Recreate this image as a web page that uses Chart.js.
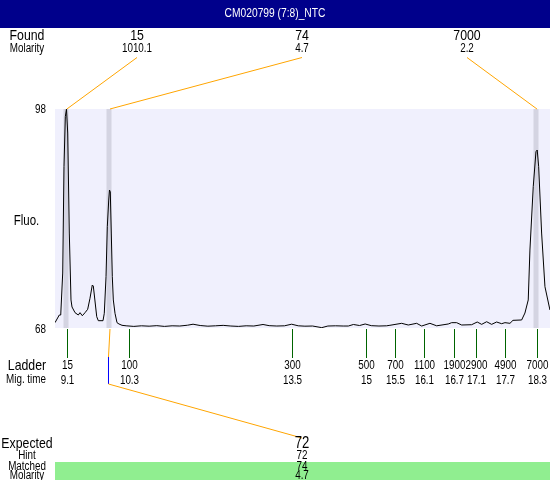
<!DOCTYPE html>
<html>
<head>
<meta charset="utf-8">
<script src="https://cdn.jsdelivr.net/npm/chart.js@4/dist/chart.umd.min.js"></script>
<style>
  html, body { margin: 0; padding: 0; background: #fff; }
  #wrap { width: 550px; height: 480px; position: relative; }
</style>
</head>
<body>
<div id="wrap"><canvas id="gel"></canvas></div>
<script>
const title = "CM020799 (7:8)_NTC";

// electropherogram trace: migration time (s) and fluorescence
const migTimes = [
  8.857, 8.941, 8.969, 9.008, 9.033, 9.059, 9.082, 9.106, 9.137, 9.170,
  9.190, 9.249, 9.313, 9.347, 9.392, 9.445, 9.497, 9.542, 9.587, 9.607,
  9.627, 9.674, 9.705, 9.797, 9.822, 9.856, 9.881, 9.909, 9.924, 9.940,
  9.959, 9.979, 9.999, 10.032, 10.071, 10.110, 10.169,
  10.25, 10.40, 10.55, 10.70, 10.85, 11.00, 11.15, 11.30, 11.45, 11.56,
  11.70, 11.85, 12.00, 12.15, 12.30, 12.45, 12.60, 12.75, 12.93, 13.05,
  13.20, 13.35, 13.49, 13.62, 13.75, 13.90, 14.08, 14.20, 14.35, 14.50,
  14.60, 14.70, 14.82, 14.93, 15.05, 15.20, 15.35,
  15.415, 15.644, 15.774, 15.938, 16.036, 16.198, 16.330, 16.557, 16.623, 16.721,
  16.819, 17.015, 17.124, 17.211, 17.309, 17.406, 17.504, 17.602, 17.667, 17.765,
  17.824, 17.994, 18.058, 18.123, 18.156, 18.221, 18.274, 18.299, 18.327, 18.385,
  18.450, 18.548
];
const fluoValues = [
  68.73, 69.78, 69.78, 75.53, 90.10, 96.95, 98.00, 94.71, 81.01, 71.84,
  70.88, 70.10, 69.78, 70.10, 69.68, 70.10, 70.56, 72.07, 73.89, 73.75,
  72.52, 69.55, 69.00, 69.00, 70.01, 75.03, 81.88, 85.53, 86.90, 86.63,
  81.01, 75.03, 71.84, 70.01, 68.73, 68.55, 68.37,
  68.30, 68.22, 68.30, 68.25, 68.32, 68.22, 68.30, 68.27, 68.38, 68.52,
  68.34, 68.25, 68.30, 68.36, 68.27, 68.22, 68.30, 68.27, 68.48, 68.32,
  68.27, 68.30, 68.52, 68.30, 68.25, 68.27, 68.05, 68.27, 68.30, 68.27,
  68.27, 68.48, 68.34, 68.55, 68.32, 68.27, 68.30,
  68.37, 68.64, 68.41, 68.64, 68.27, 68.64, 68.30, 68.55, 68.73, 68.73,
  68.41, 68.45, 68.82, 68.50, 68.86, 68.50, 68.82, 68.59, 68.73, 68.64,
  69.05, 69.10, 70.05, 71.84, 78.68, 87.36, 92.15, 92.38, 90.10, 81.01,
  73.66, 70.47
];

// found peaks
const foundSizes = ["15", "74", "7000"];
const foundMolarity = ["1010.1", "4.7", "2.2"];
const foundTimes = [9.08, 9.924, 18.284];

// ladder
const ladderSizes = ["15", "100", "300", "500", "700", "1100", "1900", "2900", "4900", "7000"];
const ladderLabels = ["9.1", "10.3", "13.5", "15", "15.5", "16.1", "16.7", "17.1", "17.7", "18.3"];
const ladderTimes = [9.1, 10.3, 13.5, 14.95, 15.52, 16.08, 16.66, 17.1, 17.66, 18.3];

// expected fragment
const expectedSize = "72";
const hintSize = "72";
const matchedSize = "74";
const matchedMolarity = "4.7";

const yTicks = [68, 98];

const FONT = "'Liberation Sans', Arial, sans-serif";
const colX = [137, 302, 467];

// narrow-looking text: regular face squeezed horizontally
function txt(ctx, s, x, y, size, color, align) {
  ctx.save();
  ctx.font = size + "px " + FONT;
  ctx.fillStyle = color || "#000";
  ctx.textAlign = align || "center";
  ctx.textBaseline = "middle";
  ctx.translate(x, y);
  ctx.scale(0.82, 1);
  ctx.fillText(s, 0, 0);
  ctx.restore();
}

function line(ctx, pts, color) {
  ctx.strokeStyle = color;
  ctx.lineWidth = 1;
  ctx.beginPath();
  ctx.moveTo(pts[0][0], pts[0][1]);
  for (let i = 1; i < pts.length; i++) ctx.lineTo(pts[i][0], pts[i][1]);
  ctx.stroke();
}

const decor = {
  id: "decor",
  beforeDatasetsDraw(chart) {
    const { ctx, chartArea: a, scales: { x } } = chart;
    ctx.save();
    ctx.fillStyle = "#F0F0FD";
    ctx.fillRect(a.left, a.top, a.right - a.left, a.bottom - a.top);
    // peak bands
    ctx.fillStyle = "#D4D4E2";
    foundTimes.forEach(t => {
      const px = x.getPixelForValue(t);
      ctx.fillRect(Math.round(px) - 2.5, a.top, 5, a.bottom - a.top);
    });
    ctx.restore();
  },
  afterDraw(chart) {
    const { ctx, chartArea: a, scales: { x, y } } = chart;
    ctx.save();
    // title bar
    ctx.fillStyle = "#00008B";
    ctx.fillRect(0, 0, chart.width, 28);
    txt(ctx, title, chart.width / 2, 14, 12.5, "#fff");

    // found row
    txt(ctx, "Found", 27, 36, 15);
    txt(ctx, "Molarity", 27, 49, 12);
    foundSizes.forEach((s, i) => {
      txt(ctx, s, colX[i], 36, 15);
      txt(ctx, foundMolarity[i], colX[i], 49, 12);
      const px = x.getPixelForValue(foundTimes[i]);
      line(ctx, [[colX[i], 57.5], [px + 0.5, a.top]], "#FFA500");
    });

    // y labels
    yTicks.forEach(v => {
      txt(ctx, String(v), 46, y.getPixelForValue(v) + (v === yTicks[0] ? 2 : 1), 12, "#000", "right");
    });
    txt(ctx, "Fluo.", 26.5, 221, 14);

    // ladder
    txt(ctx, "Ladder", 27, 366, 15);
    txt(ctx, "Mig. time", 26, 380, 12);
    ladderTimes.forEach((t, i) => {
      const px = Math.round(x.getPixelForValue(t)) + 0.5;
      line(ctx, [[px, a.bottom + 1], [px, 358]], "#006400");
      txt(ctx, ladderSizes[i], px, 366, 12);
      txt(ctx, ladderLabels[i], px, 380.5, 12);
    });

    // expected link
    const p2 = x.getPixelForValue(foundTimes[1]);
    line(ctx, [[p2 + 0.5, a.bottom + 1], [p2 - 1, 357]], "#FFA500");
    line(ctx, [[p2 - 1, 357], [p2 - 1, 384]], "#0000FF");
    line(ctx, [[p2 - 1, 384], [colX[1], 438]], "#FFA500");

    // expected rows
    ctx.fillStyle = "#90EE90";
    ctx.fillRect(a.left, 462, chart.width - a.left, 18);
    txt(ctx, "Expected", 27, 444, 15);
    txt(ctx, expectedSize, colX[1], 444, 16);
    txt(ctx, "Hint", 27, 456, 12);
    txt(ctx, hintSize, colX[1], 456, 12);
    txt(ctx, "Matched", 27, 466.5, 12);
    txt(ctx, matchedSize, colX[1], 466.5, 12);
    txt(ctx, "Molarity", 27, 475.5, 12);
    txt(ctx, matchedMolarity, colX[1], 476, 12);
    ctx.restore();
  }
};

new Chart(document.getElementById("gel"), {
  type: "line",
  data: {
    datasets: [{
      data: migTimes.map((t, i) => ({ x: t, y: fluoValues[i] })),
      borderColor: "#000",
      borderWidth: 1,
      pointRadius: 0,
      tension: 0,
      fill: false
    }]
  },
  options: {
    responsive: true,
    maintainAspectRatio: false,
    animation: false,
    layout: { padding: { left: 55, right: 0, top: 109, bottom: 152 } },
    plugins: { legend: { display: false }, tooltip: { enabled: false } },
    scales: {
      x: { type: "linear", min: 8.857, max: 18.549, display: false },
      y: { min: 68, max: 98, display: false }
    }
  },
  plugins: [decor]
});
</script>
</body>
</html>
